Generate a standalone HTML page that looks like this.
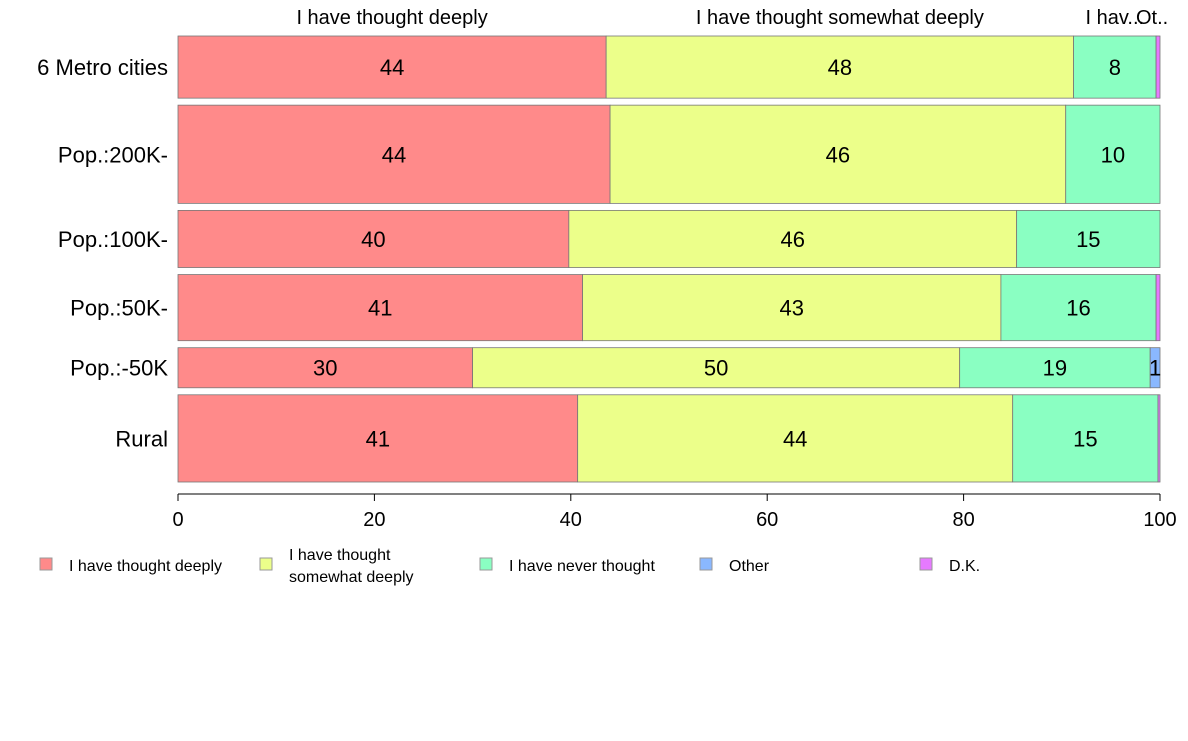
<!DOCTYPE html>
<html><head><meta charset="utf-8"><style>
body{margin:0;background:#fff;font-family:"Liberation Sans",Arial,sans-serif}
svg text{font-family:"Liberation Sans",Arial,sans-serif}
</style></head><body>
<svg id="c" width="1188" height="736" xmlns="http://www.w3.org/2000/svg"></svg>
<script>
const categories=["6 Metro cities","Pop.:200K-","Pop.:100K-","Pop.:50K-","Pop.:-50K","Rural"];
const sampleSizes=[62,98,57,66,40,87];
const seriesNames=["I have thought deeply","I have thought somewhat deeply","I have never thought","Other","D.K."];
const deeply=[43.6,44.0,39.8,41.2,30.0,40.7];
const somewhat=[47.6,46.4,45.6,42.6,49.6,44.3];
const never=[8.4,9.6,14.6,15.8,19.4,14.8];
const other=[0,0,0,0,1.0,0];
const dk=[0.4,0,0,0.4,0,0.2];
const ticks=[0,20,40,60,80,100];
const colors=["#ff8a8a","#ecff8a","#8affc2","#8ab8ff","#e67aff"];
const series=[deeply,somewhat,never,other,dk];
const svg=document.getElementById('c');const NS="http://www.w3.org/2000/svg";
function mk(t,a,p){const e=document.createElementNS(NS,t);for(const k in a)e.setAttribute(k,a[k]);(p||svg).appendChild(e);return e;}
const x0=178,x1=1160,yTop=36,yBot=482,gap=7;
const X=v=>x0+(x1-x0)*v/100;
const totalH=yBot-yTop-gap*(categories.length-1);
const sumS=sampleSizes.reduce((a,b)=>a+b,0);
let y=yTop;
categories.forEach((c,i)=>{
  const h=totalH*sampleSizes[i]/sumS;
  let cum=0;
  series.forEach((s,j)=>{
    const v=s[i];
    const r=mk('rect',{x:X(cum),y:y,width:Math.max(0,X(cum+v)-X(cum)),height:h,fill:colors[j],stroke:"#777","stroke-width":0.8});
    
    
    if(v>=0.8){const t=mk('text',{x:(X(cum)+X(cum+v))/2,y:y+h/2+8,"text-anchor":"middle","font-size":22,fill:"#000"});
      t.textContent=Math.round(v);
      
      }
    if(i===0){
      const names=["I have thought deeply","I have thought somewhat deeply","I hav...","Ot..",""];
      if(names[j]){const t=mk('text',{x:j===3?X(cum+v)-4:(X(cum)+X(cum+v))/2,y:24,"text-anchor":"middle","font-size":20});
      t.textContent=names[j];
      
      }
    }
    cum+=v;
  });
  const t=mk('text',{x:168,y:y+h/2+8,"text-anchor":"end","font-size":22});
  t.textContent=c;
  
  
  y+=h+gap;
});
const ax=mk('line',{x1:x0,x2:x1,y1:494,y2:494,stroke:"#000"});


ticks.forEach(v=>{
  const l=mk('line',{x1:X(v),x2:X(v),y1:494,y2:501,stroke:"#000"});
  
  
  const t=mk('text',{x:X(v),y:526,"text-anchor":"middle","font-size":20});
  t.textContent=v;
  
  
});
const lx=[40,260,480,700,920];
seriesNames.forEach((n,j)=>{
  const g=mk('g',{});
  
  
  mk('rect',{x:lx[j],y:558,width:12,height:12,fill:colors[j],stroke:"#999"},g);
  if(j===1){
    const t1=mk('text',{x:lx[j]+29,y:560,"font-size":16},g);t1.textContent="I have thought";
    const t2=mk('text',{x:lx[j]+29,y:582,"font-size":16},g);t2.textContent="somewhat deeply";
  }else{const t=mk('text',{x:lx[j]+29,y:571,"font-size":16},g);t.textContent=n;}
});
</script></body></html>
